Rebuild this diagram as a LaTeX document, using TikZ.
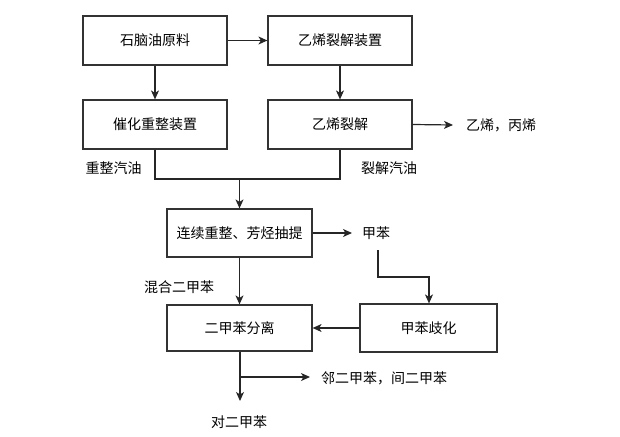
\documentclass[tikz,border=0pt]{standalone}
\usepackage{fontspec}
\newfontfamily\cjk{Noto Sans CJK SC}
\usetikzlibrary{arrows.meta}
\begin{document}
\begin{tikzpicture}[x=1pt,y=-1pt,
  box/.style={draw=black!80,line width=1.2pt,fill=white,minimum width=144pt,minimum height=49pt,inner sep=0pt,font=\cjk\fontsize{14}{16}\selectfont},
  lbl/.style={inner sep=0pt,font=\cjk\fontsize{14}{16}\selectfont},
  arr/.style={draw=black!85,line width=1.2pt,-{Stealth[length=9pt,width=8pt,inset=2.5pt]}},
  ln/.style={draw=black!85,line width=1.2pt}]
\useasboundingbox (0,0) rectangle (620,436);
\node[box] (a) at (155,40.5) {石脑油原料};
\node[box] (b) at (340,40.5) {乙烯裂解装置};
\node[box] (c) at (155,124.5) {催化重整装置};
\node[box] (d) at (340,124.5) {乙烯裂解};
\node[box,minimum width=145pt,minimum height=48pt] (e) at (239.5,233) {连续重整、芳烃抽提};
\node[box,minimum width=145pt,minimum height=46pt] (f) at (239.5,328) {二甲苯分离};
\node[box,minimum width=137pt,minimum height=48pt] (g) at (428.5,328) {甲苯歧化};
\node[lbl] (l1) at (113.5,168) {重整汽油};
\node[lbl] (l2) at (389,168) {裂解汽油};
\node[lbl,anchor=west] (l3) at (466,125.5) {乙烯，丙烯};
\node[lbl,anchor=west] (l4) at (362,233.5) {甲苯};
\node[lbl] (l5) at (179,287) {混合二甲苯};
\node[lbl,anchor=west] (l6) at (321,378) {邻二甲苯，间二甲苯};
\node[lbl] (l7) at (239,422) {对二甲苯};
\coordinate (j) at (239.5,179);
\coordinate (t1) at (453,125);
\coordinate (t2) at (352,233);
\coordinate (k) at (240,377);
\coordinate (t3) at (310,377);
\coordinate (t4) at (240,401);
\draw[arr] (a) -- (b);
\draw[arr] (a) -- (c);
\draw[arr] (b) -- (d);
\draw[ln] (c.south) |- (j);
\draw[ln] (d.south) |- (j);
\draw[arr] (j) -- (e);
\draw[arr] (d.east) -- (t1);
\draw[arr] (e.east) -- (t2);
\draw[arr] (378,250) |- (429,277) -- (g.north -| 429,0);
\draw[arr] (e) -- (f);
\draw[arr] (g) -- (f);
\draw[ln] (f.south -| k) -- (k);
\draw[arr] (k) -- (t3);
\draw[arr] (k) -- (t4);
\end{tikzpicture}
\end{document}
